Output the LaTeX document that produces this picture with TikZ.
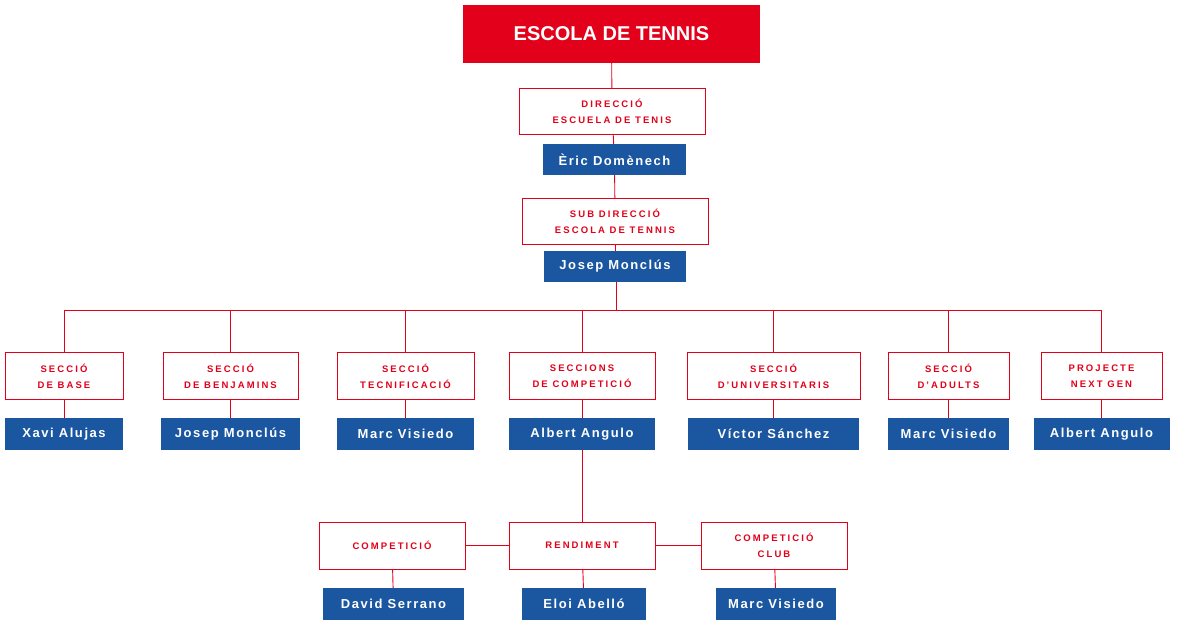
\documentclass[tikz,border=0pt]{standalone}
\usepackage{fontspec}
\setmainfont{Liberation Sans}
\usetikzlibrary{positioning}
\definecolor{clubred}{HTML}{E2001A}
\definecolor{clubblue}{HTML}{1B57A0}
\tikzset{
  title/.style={fill=clubred, text=white, font=\bfseries\fontsize{20}{22}\selectfont, inner sep=0pt},
  unit/.style={draw=clubred, fill=white, text=clubred, align=center, inner sep=0pt,
    font=\bfseries\addfontfeature{LetterSpace=22}\fontsize{9.5}{16}\selectfont},
  person/.style={fill=clubblue, text=white, inner sep=0pt,
    font=\bfseries\addfontfeature{LetterSpace=12}\fontsize{13}{15}\selectfont},
  link/.style={draw=clubred, line width=0.9pt}
}
\begin{document}
\begin{tikzpicture}[x=1pt,y=-1pt]
    \useasboundingbox (0,0) rectangle (1177,628);

    % head of the school
    \node[title, minimum width=297, minimum height=58] (esc) at (611.5,34) {ESCOLA DE TENNIS};
    \node[unit, minimum width=186, minimum height=46] (dir) at (612,111) {DIRECCIÓ\\ESCUELA DE TENIS};
    \node[person, minimum width=143, minimum height=31] (eric) at (614.5,159.5) {Èric Domènech};
    \node[unit, minimum width=186, minimum height=46] (sub) at (615,221) {SUB DIRECCIÓ\\ESCOLA DE TENNIS};
    \node[person, minimum width=142, minimum height=31] (josep) at (615,266.5) {Josep Monclús};
    \coordinate (bus) at (616,310);

    % the sections
    \foreach \n/\x/\w/\wn/\txt/\who in {
        sa/64/118/118/{SECCIÓ\\DE BASE}/{Xavi Alujas},
        sb/230.5/135/139/{SECCIÓ\\DE BENJAMINS}/{Josep Monclús},
        sc/405.5/137/137/{SECCIÓ\\TECNIFICACIÓ}/{Marc Visiedo},
        sd/582/146/146/{SECCIONS\\DE COMPETICIÓ}/{Albert Angulo},
        se/773.5/173/171/{SECCIÓ\\D’UNIVERSITARIS}/{Víctor Sánchez},
        sf/948.5/121/121/{SECCIÓ\\D’ADULTS}/{Marc Visiedo},
        sg/1101.5/121/136/{PROJECTE\\NEXT GEN}/{Albert Angulo}} {
      \node[unit, minimum width=\w, minimum height=47] (\n) at (\x,376) {\txt};
      \node[person, minimum width=\wn, minimum height=32] (\n p) at (\x,434) {\who};
    }

    % the competition group
    \node[unit, minimum width=146, minimum height=47] (rend) at (582,545.5) {RENDIMENT};
    \node[unit, minimum width=146, minimum height=47] (comp) at (392,545.5) {COMPETICIÓ};
    \node[unit, minimum width=146, minimum height=47] (club) at (774,545.5) {COMPETICIÓ\\CLUB};
    \node[person, minimum width=141, minimum height=32] (david) at (393.5,604) {David Serrano};
    \node[person, minimum width=124, minimum height=32] (eloi) at (584,604) {Eloi Abelló};
    \node[person, minimum width=120, minimum height=32] (marc) at (776,604) {Marc Visiedo};

    % the lines
    \begin{scope}[on background layer/.try]
    \end{scope}
    \draw[link] (esc) -- (dir);
    \draw[link] (dir) -- (eric);
    \draw[link] (eric) -- (sub);
    \draw[link] (sub) -- (josep);
    \draw[link] (josep.south -| bus) -- (bus);
    \draw[link] (sa.north |- bus) -- (sg.north |- bus);
    \foreach \n in {sa,sb,sc,sd,se,sf,sg} {
      \draw[link] (\n.north |- bus) -- (\n.north);
      \draw[link] (\n) -- (\n p);
    }
    \draw[link] (sdp) -- (rend);
    \draw[link] (comp) -- (rend);
    \draw[link] (rend) -- (club);
    \draw[link] (comp) -- (david);
    \draw[link] (rend) -- (eloi);
    \draw[link] (club) -- (marc);
\end{tikzpicture}
\end{document}
